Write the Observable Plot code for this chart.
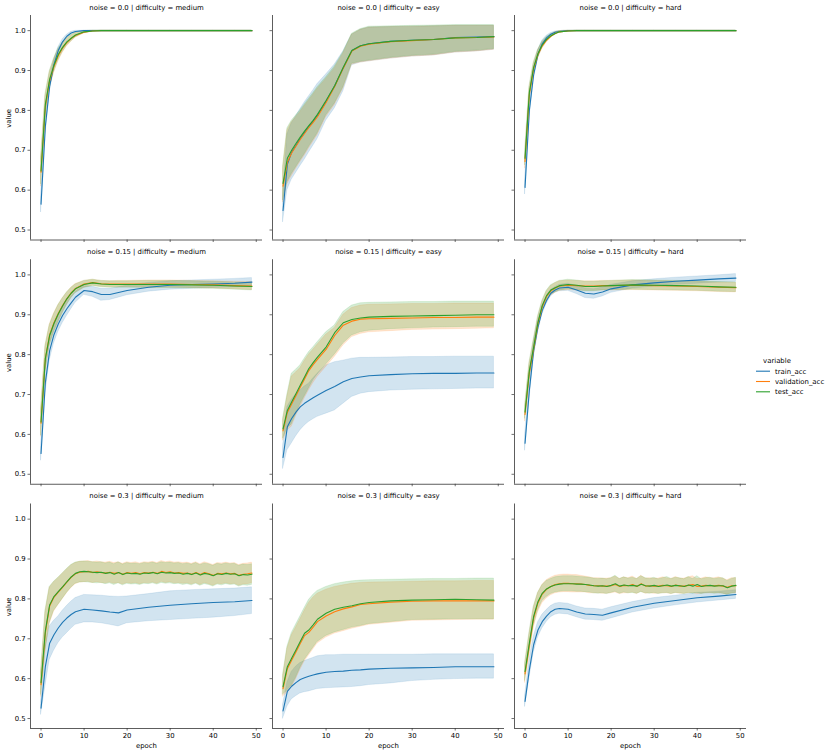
<!DOCTYPE html>
<html><head><meta charset="utf-8">
<script src="https://cdn.jsdelivr.net/npm/d3@7"></script>
<script src="https://cdn.jsdelivr.net/npm/@observablehq/plot@0.6"></script>
<style>
body{margin:0;background:#fff;}
#chart{position:relative;width:831px;height:754px;}
</style></head><body><div id="chart"></div>
<script>
const variables = ["train_acc","validation_acc","test_acc"];
const colors = ["#1f77b4","#ff7f0e","#2ca02c"];
const difficulties = ["medium","easy","hard"];
const noises = ["0.0","0.15","0.3"];
const xTicks = [0,10,20,30,40,50];
const yTicks = [0.5,0.6,0.7,0.8,0.9,1.0];

// sampled epochs (smooth curves) and all epochs (noisy curves)
const EP = [0,1,2,3,4,5,6,7,8,10,12,14,16,18,20,25,30,35,40,45,49];
const EPD = [0,1,2,3,4,5,6,7,8,9,10,11,12,13,14,15,16,17,18,19,20,21,22,23,24,25,26,27,28,29,30,31,32,33,34,35,36,37,38,39,40,41,42,43,44,45,46,47,48,49];

// noise 0.0 | medium
const n00_medium_train_mean = [.565,.76,.86,.915,.95,.972,.986,.994,.998,1,1,1,1,1,1,1,1,1,1,1,1];
const n00_medium_train_lo   = [.545,.735,.845,.905,.942,.966,.982,.991,.996,.9995,1,1,1,1,1,1,1,1,1,1,1];
const n00_medium_train_hi   = [.585,.785,.875,.925,.958,.978,.99,.997,.9995,1,1,1,1,1,1,1,1,1,1,1,1];
const n00_medium_val_mean   = [.645,.81,.875,.91,.937,.956,.97,.98,.988,.996,.999,1,1,1,1,1,1,1,1,1,1];
const n00_medium_val_lo     = [.61,.785,.855,.893,.922,.944,.96,.972,.982,.993,.998,1,1,1,1,1,1,1,1,1,1];
const n00_medium_val_hi     = [.68,.835,.895,.927,.952,.968,.98,.988,.994,.999,1,1,1,1,1,1,1,1,1,1,1];
const n00_medium_test_mean  = [.648,.815,.878,.913,.94,.958,.972,.981,.989,.997,.999,1,1,1,1,1,1,1,1,1,1];
const n00_medium_test_lo    = [.615,.79,.858,.896,.925,.946,.962,.973,.983,.994,.998,1,1,1,1,1,1,1,1,1,1];
const n00_medium_test_hi    = [.682,.84,.898,.93,.955,.97,.982,.989,.995,.999,1,1,1,1,1,1,1,1,1,1,1];

// noise 0.0 | easy
const n00_easy_train_mean = [.549,.665,.695,.712,.73,.745,.76,.773,.788,.823,.862,.907,.95,.962,.967,.973,.976,.978,.983,.984,.985];
const n00_easy_train_lo   = [.52,.6,.626,.643,.66,.676,.694,.711,.728,.774,.805,.848,.913,.92,.923,.93,.935,.938,.945,.948,.952];
const n00_easy_train_hi   = [.585,.74,.768,.785,.803,.82,.835,.85,.866,.89,.915,.948,.99,1.002,1.008,1.009,1.01,1.011,1.012,1.012,1.012];
const n00_easy_val_mean   = [.61,.67,.693,.71,.727,.742,.757,.77,.784,.82,.86,.906,.949,.961,.966,.972,.975,.978,.982,.983,.984];
const n00_easy_val_lo     = [.57,.615,.635,.653,.67,.686,.704,.721,.738,.783,.813,.855,.915,.92,.923,.93,.935,.938,.945,.948,.952];
const n00_easy_val_hi     = [.655,.75,.77,.783,.796,.811,.825,.839,.854,.879,.906,.943,.99,1.002,1.008,1.009,1.01,1.011,1.012,1.012,1.012];
const n00_easy_test_mean  = [.617,.68,.70,.717,.733,.748,.762,.775,.79,.825,.862,.908,.95,.962,.967,.973,.976,.978,.982,.983,.985];
const n00_easy_test_lo    = [.575,.62,.64,.657,.674,.69,.708,.725,.742,.787,.817,.858,.917,.922,.925,.932,.937,.94,.947,.95,.954];
const n00_easy_test_hi    = [.66,.755,.774,.787,.80,.815,.829,.843,.858,.883,.91,.946,.992,1.004,1.01,1.011,1.012,1.013,1.014,1.014,1.014];

// noise 0.0 | hard
const n00_hard_train_mean = [.607,.80,.89,.94,.967,.982,.991,.996,.998,1,1,1,1,1,1,1,1,1,1,1,1];
const n00_hard_train_lo   = [.59,.78,.875,.93,.959,.977,.988,.994,.997,.9995,1,1,1,1,1,1,1,1,1,1,1];
const n00_hard_train_hi   = [.625,.82,.905,.95,.975,.987,.994,.998,.999,1,1,1,1,1,1,1,1,1,1,1,1];
const n00_hard_val_mean   = [.672,.84,.905,.94,.962,.976,.986,.993,.997,.999,1,1,1,1,1,1,1,1,1,1,1];
const n00_hard_val_lo     = [.655,.825,.893,.93,.954,.97,.982,.99,.995,.998,1,1,1,1,1,1,1,1,1,1,1];
const n00_hard_val_hi     = [.69,.855,.917,.95,.97,.982,.99,.996,.999,1,1,1,1,1,1,1,1,1,1,1,1];
const n00_hard_test_mean  = [.68,.845,.908,.942,.964,.978,.987,.993,.997,.999,1,1,1,1,1,1,1,1,1,1,1];
const n00_hard_test_lo    = [.663,.83,.896,.932,.956,.972,.983,.99,.995,.998,1,1,1,1,1,1,1,1,1,1,1];
const n00_hard_test_hi    = [.697,.86,.92,.952,.972,.984,.991,.996,.999,1,1,1,1,1,1,1,1,1,1,1,1];

// noise 0.15 | medium
const n015_medium_train_mean = [.552,.73,.81,.85,.877,.898,.915,.93,.944,.961,.958,.951,.951,.956,.961,.969,.974,.976,.977,.979,.982];
const n015_medium_train_lo   = [.535,.70,.785,.828,.857,.879,.897,.914,.93,.95,.945,.935,.937,.943,.949,.958,.963,.965,.967,.969,.971];
const n015_medium_train_hi   = [.57,.76,.835,.872,.897,.917,.933,.946,.958,.972,.97,.965,.965,.969,.973,.98,.984,.986,.988,.99,.992];
const n015_medium_val_mean   = [.628,.79,.85,.88,.903,.923,.94,.955,.966,.977,.981,.978,.977,.977,.977,.977,.977,.976,.975,.973,.972];
const n015_medium_val_lo     = [.595,.76,.825,.857,.882,.905,.925,.942,.955,.968,.973,.97,.969,.969,.969,.968,.968,.967,.966,.964,.962];
const n015_medium_val_hi     = [.66,.82,.875,.903,.924,.941,.955,.968,.977,.985,.988,.985,.984,.985,.985,.986,.986,.985,.984,.983,.982];
const n015_medium_test_mean  = [.631,.79,.848,.878,.902,.922,.94,.954,.965,.976,.98,.977,.976,.976,.976,.976,.976,.975,.974,.972,.971];
const n015_medium_test_lo    = [.598,.758,.822,.855,.88,.903,.924,.941,.954,.967,.972,.969,.968,.968,.968,.967,.967,.966,.965,.963,.961];
const n015_medium_test_hi    = [.664,.822,.874,.901,.924,.941,.956,.967,.976,.985,.988,.985,.984,.984,.984,.985,.985,.984,.983,.981,.98];

// noise 0.15 | easy
const n015_easy_train_mean = [.542,.619,.64,.656,.669,.678,.685,.692,.698,.71,.72,.732,.74,.744,.747,.75,.752,.753,.753,.754,.754];
const n015_easy_train_lo   = [.514,.56,.577,.595,.61,.622,.631,.638,.644,.652,.66,.677,.694,.702,.706,.71,.712,.713,.714,.715,.715];
const n015_easy_train_hi   = [.57,.669,.687,.70,.71,.72,.727,.74,.752,.773,.781,.785,.79,.792,.792,.793,.794,.794,.795,.795,.795];
const n015_easy_val_mean   = [.609,.655,.676,.697,.718,.739,.76,.775,.788,.813,.848,.874,.884,.889,.89,.891,.892,.893,.893,.894,.894];
const n015_easy_val_lo     = [.585,.61,.619,.645,.669,.69,.71,.728,.744,.769,.794,.823,.844,.852,.856,.859,.862,.863,.864,.865,.866];
const n015_easy_val_hi     = [.635,.695,.745,.755,.766,.784,.80,.812,.825,.85,.867,.90,.917,.923,.925,.926,.927,.927,.928,.928,.928];
const n015_easy_test_mean  = [.614,.66,.681,.702,.723,.744,.765,.78,.794,.819,.855,.88,.888,.892,.894,.896,.897,.898,.899,.9,.9];
const n015_easy_test_lo    = [.59,.615,.625,.65,.675,.695,.715,.735,.75,.775,.80,.828,.848,.856,.86,.864,.866,.868,.869,.87,.87];
const n015_easy_test_hi    = [.64,.70,.752,.762,.773,.79,.806,.818,.831,.856,.873,.907,.923,.929,.93,.931,.932,.932,.933,.933,.933];

// noise 0.15 | hard
const n015_hard_train_mean = [.578,.71,.81,.869,.911,.936,.954,.962,.967,.969,.962,.954,.952,.957,.965,.975,.98,.984,.987,.99,.992];
const n015_hard_train_lo   = [.56,.685,.79,.855,.9,.927,.946,.955,.959,.96,.952,.942,.94,.946,.955,.966,.971,.975,.978,.981,.982];
const n015_hard_train_hi   = [.596,.735,.83,.883,.922,.945,.962,.969,.975,.978,.972,.966,.964,.968,.975,.984,.989,.993,.996,.999,1.002];
const n015_hard_val_mean   = [.65,.755,.815,.878,.92,.946,.96,.967,.972,.974,.973,.972,.972,.973,.973,.974,.973,.972,.971,.969,.968];
const n015_hard_val_lo     = [.633,.735,.797,.863,.908,.934,.948,.955,.96,.962,.961,.96,.96,.961,.961,.962,.961,.96,.959,.957,.956];
const n015_hard_val_hi     = [.667,.775,.833,.893,.932,.958,.972,.979,.984,.986,.985,.984,.984,.985,.985,.986,.985,.984,.983,.981,.98];
const n015_hard_test_mean  = [.656,.76,.819,.881,.923,.948,.962,.968,.973,.976,.974,.971,.971,.972,.973,.975,.974,.973,.972,.97,.969];
const n015_hard_test_lo    = [.64,.74,.80,.866,.911,.936,.95,.956,.961,.964,.962,.959,.959,.961,.962,.963,.962,.961,.96,.958,.957];
const n015_hard_test_hi    = [.672,.78,.838,.896,.935,.96,.974,.98,.985,.988,.986,.983,.983,.984,.985,.987,.986,.985,.984,.982,.981];

// noise 0.3 | medium  (train on EP, val/test on EPD)
const n03_medium_train_mean = [.526,.63,.689,.71,.727,.741,.752,.761,.768,.774,.772,.77,.767,.765,.772,.779,.784,.788,.791,.793,.796];
const n03_medium_train_lo   = [.51,.58,.647,.67,.689,.703,.714,.725,.735,.741,.741,.739,.735,.731,.739,.744,.747,.75,.753,.757,.762];
const n03_medium_train_hi   = [.542,.68,.731,.745,.756,.77,.782,.793,.802,.81,.809,.808,.806,.805,.806,.812,.819,.822,.824,.826,.829];
const n03_medium_val_mean = [.585,.715,.782,.804,.817,.829,.842,.854,.863,.867, .868,.869,.866,.868,.866,.865,.867,.864,.866,.862, .866,.864,.866,.863,.866,.865,.867,.864,.869,.866, .868,.865,.866,.864,.865,.862,.866,.861,.866,.863, .859,.864,.863,.865,.863,.864,.859,.862,.863,.865];
const n03_medium_val_lo   = [.555,.665,.737,.768,.784,.799,.814,.827,.837,.841, .842,.843,.84,.842,.84,.839,.841,.838,.84,.836, .84,.838,.84,.837,.84,.839,.841,.838,.843,.84, .842,.839,.84,.838,.839,.836,.84,.835,.84,.837, .833,.838,.837,.839,.837,.838,.833,.836,.837,.839];
const n03_medium_val_hi   = [.615,.765,.828,.842,.852,.863,.874,.884,.89,.893, .894,.895,.892,.894,.892,.891,.893,.89,.892,.888, .892,.89,.892,.889,.892,.891,.893,.89,.895,.892, .894,.891,.892,.89,.891,.888,.892,.887,.892,.889, .885,.89,.889,.891,.889,.89,.885,.888,.889,.891];
const n03_medium_test_mean = [.59,.72,.785,.806,.818,.83,.843,.855,.864,.868, .869,.868,.867,.866,.867,.864,.866,.862,.866,.861, .865,.863,.864,.862,.865,.864,.866,.863,.867,.865, .866,.864,.865,.862,.864,.861,.865,.86,.864,.862, .858,.863,.861,.864,.862,.863,.858,.861,.86,.862];
const n03_medium_test_lo   = [.56,.67,.74,.77,.785,.8,.815,.828,.838,.841, .842,.841,.84,.839,.84,.837,.839,.835,.839,.834, .838,.836,.837,.835,.838,.837,.839,.836,.84,.838, .839,.837,.838,.835,.837,.834,.838,.833,.837,.835, .831,.836,.834,.837,.835,.836,.831,.834,.833,.835];
const n03_medium_test_hi   = [.62,.77,.83,.843,.853,.864,.875,.885,.891,.893, .894,.893,.892,.891,.892,.889,.891,.887,.892,.886, .89,.888,.889,.887,.89,.889,.891,.888,.892,.89, .891,.889,.89,.887,.889,.886,.89,.885,.889,.887, .883,.888,.886,.889,.887,.888,.883,.886,.885,.887];

// noise 0.3 | easy
const n03_easy_train_mean = [.519,.568,.581,.59,.598,.602,.606,.609,.612,.616,.618,.619,.621,.622,.624,.626,.627,.628,.63,.63,.63];
const n03_easy_train_lo   = [.50,.53,.548,.556,.563,.566,.568,.571,.574,.576,.577,.578,.579,.581,.584,.588,.594,.597,.599,.6,.6];
const n03_easy_train_hi   = [.535,.59,.617,.63,.639,.644,.648,.652,.656,.659,.659,.66,.66,.66,.66,.66,.66,.661,.661,.661,.661];
const n03_easy_val_mean   = [.575,.625,.646,.667,.688,.708,.716,.729,.743,.757,.768,.775,.78,.786,.788,.792,.794,.795,.795,.795,.795];
const n03_easy_val_lo     = [.555,.565,.578,.598,.622,.643,.658,.673,.688,.703,.713,.719,.725,.73,.735,.74,.745,.746,.747,.748,.748];
const n03_easy_val_hi     = [.605,.675,.708,.728,.749,.77,.79,.803,.813,.823,.83,.834,.838,.84,.841,.842,.843,.844,.844,.845,.845];
const n03_easy_test_mean  = [.58,.63,.651,.672,.693,.714,.722,.735,.749,.764,.774,.779,.783,.788,.791,.795,.797,.798,.799,.798,.797];
const n03_easy_test_lo    = [.56,.57,.582,.602,.627,.647,.662,.677,.692,.707,.716,.722,.728,.732,.737,.742,.747,.748,.749,.749,.749];
const n03_easy_test_hi    = [.61,.68,.714,.735,.756,.777,.797,.81,.82,.83,.837,.841,.844,.846,.847,.848,.849,.85,.85,.851,.851];

// noise 0.3 | hard  (train on EP, val/test on EPD)
const n03_hard_train_mean = [.543,.622,.685,.722,.743,.757,.768,.774,.776,.774,.767,.762,.761,.759,.765,.779,.789,.796,.803,.807,.811];
const n03_hard_train_lo   = [.53,.6,.665,.703,.726,.742,.754,.76,.763,.761,.754,.748,.747,.745,.751,.766,.776,.784,.791,.796,.8];
const n03_hard_train_hi   = [.556,.645,.705,.741,.76,.772,.782,.788,.79,.788,.781,.776,.775,.773,.779,.792,.802,.808,.815,.818,.822];
const n03_hard_val_mean = [.612,.684,.752,.79,.812,.824,.831,.836,.838,.839, .839,.838,.838,.837,.836,.834,.833,.833,.832,.832, .833,.836,.831,.834,.833,.836,.831,.838,.832,.833, .832,.832,.834,.833,.831,.835,.832,.832,.834,.836, .831,.832,.834,.833,.833,.834,.832,.829,.833,.833];
const n03_hard_val_lo   = [.59,.658,.727,.766,.789,.801,.809,.814,.816,.817, .817,.816,.816,.816,.816,.814,.814,.814,.813,.813, .814,.816,.812,.814,.814,.816,.812,.818,.813,.814, .813,.813,.814,.814,.812,.815,.813,.813,.814,.815, .812,.813,.814,.814,.814,.814,.813,.811,.814,.814];
const n03_hard_val_hi   = [.635,.71,.777,.814,.835,.847,.853,.858,.86,.861, .861,.86,.86,.858,.856,.854,.852,.852,.851,.851, .852,.856,.85,.854,.852,.856,.85,.858,.851,.852, .851,.851,.854,.852,.85,.855,.851,.851,.854,.857, .85,.851,.854,.852,.852,.854,.851,.847,.852,.852];
const n03_hard_test_mean = [.618,.689,.756,.793,.814,.825,.831,.835,.837,.838, .838,.838,.837,.837,.836,.835,.833,.832,.833,.831, .834,.838,.832,.835,.833,.834,.832,.837,.833,.832, .834,.831,.833,.835,.832,.834,.833,.831,.835,.832, .836,.831,.833,.834,.832,.833,.833,.828,.832,.834];
const n03_hard_test_lo   = [.595,.663,.732,.771,.794,.805,.812,.816,.818,.819, .819,.819,.818,.818,.817,.816,.814,.813,.814,.812, .815,.818,.813,.816,.814,.815,.813,.817,.814,.813, .815,.812,.814,.815,.812,.815,.814,.812,.815,.813, .815,.812,.814,.815,.813,.814,.813,.81,.813,.815];
const n03_hard_test_hi   = [.64,.715,.78,.815,.834,.845,.85,.854,.856,.857, .857,.857,.856,.855,.854,.853,.851,.85,.851,.849, .852,.858,.85,.854,.851,.853,.85,.857,.852,.85, .853,.849,.852,.855,.85,.853,.852,.849,.855,.85, .857,.849,.852,.853,.85,.852,.852,.845,.85,.853];

const series = [
  ["0.0","medium","train_acc",EP,n00_medium_train_mean,n00_medium_train_lo,n00_medium_train_hi],
  ["0.0","medium","validation_acc",EP,n00_medium_val_mean,n00_medium_val_lo,n00_medium_val_hi],
  ["0.0","medium","test_acc",EP,n00_medium_test_mean,n00_medium_test_lo,n00_medium_test_hi],
  ["0.0","easy","train_acc",EP,n00_easy_train_mean,n00_easy_train_lo,n00_easy_train_hi],
  ["0.0","easy","validation_acc",EP,n00_easy_val_mean,n00_easy_val_lo,n00_easy_val_hi],
  ["0.0","easy","test_acc",EP,n00_easy_test_mean,n00_easy_test_lo,n00_easy_test_hi],
  ["0.0","hard","train_acc",EP,n00_hard_train_mean,n00_hard_train_lo,n00_hard_train_hi],
  ["0.0","hard","validation_acc",EP,n00_hard_val_mean,n00_hard_val_lo,n00_hard_val_hi],
  ["0.0","hard","test_acc",EP,n00_hard_test_mean,n00_hard_test_lo,n00_hard_test_hi],
  ["0.15","medium","train_acc",EP,n015_medium_train_mean,n015_medium_train_lo,n015_medium_train_hi],
  ["0.15","medium","validation_acc",EP,n015_medium_val_mean,n015_medium_val_lo,n015_medium_val_hi],
  ["0.15","medium","test_acc",EP,n015_medium_test_mean,n015_medium_test_lo,n015_medium_test_hi],
  ["0.15","easy","train_acc",EP,n015_easy_train_mean,n015_easy_train_lo,n015_easy_train_hi],
  ["0.15","easy","validation_acc",EP,n015_easy_val_mean,n015_easy_val_lo,n015_easy_val_hi],
  ["0.15","easy","test_acc",EP,n015_easy_test_mean,n015_easy_test_lo,n015_easy_test_hi],
  ["0.15","hard","train_acc",EP,n015_hard_train_mean,n015_hard_train_lo,n015_hard_train_hi],
  ["0.15","hard","validation_acc",EP,n015_hard_val_mean,n015_hard_val_lo,n015_hard_val_hi],
  ["0.15","hard","test_acc",EP,n015_hard_test_mean,n015_hard_test_lo,n015_hard_test_hi],
  ["0.3","medium","train_acc",EP,n03_medium_train_mean,n03_medium_train_lo,n03_medium_train_hi],
  ["0.3","medium","validation_acc",EPD,n03_medium_val_mean,n03_medium_val_lo,n03_medium_val_hi],
  ["0.3","medium","test_acc",EPD,n03_medium_test_mean,n03_medium_test_lo,n03_medium_test_hi],
  ["0.3","easy","train_acc",EP,n03_easy_train_mean,n03_easy_train_lo,n03_easy_train_hi],
  ["0.3","easy","validation_acc",EP,n03_easy_val_mean,n03_easy_val_lo,n03_easy_val_hi],
  ["0.3","easy","test_acc",EP,n03_easy_test_mean,n03_easy_test_lo,n03_easy_test_hi],
  ["0.3","hard","train_acc",EP,n03_hard_train_mean,n03_hard_train_lo,n03_hard_train_hi],
  ["0.3","hard","validation_acc",EPD,n03_hard_val_mean,n03_hard_val_lo,n03_hard_val_hi],
  ["0.3","hard","test_acc",EPD,n03_hard_test_mean,n03_hard_test_lo,n03_hard_test_hi]
];

const rows = series.flatMap(([noise, difficulty, variable, ep, m, lo, hi]) =>
  ep.map((epoch, i) => ({noise, difficulty, variable, epoch, mean: m[i], lo: lo[i], hi: hi[i]})));

const panels = noises.flatMap(noise => difficulties.map(difficulty => ({noise, difficulty})));

const xDomain = [-2.45, 51.45];
const yDomain = [0.475, 1.038];
const spine = "#333";

const plot = Plot.plot({
  width: 831, height: 754,
  marginLeft: 30, marginRight: 85, marginTop: 15, marginBottom: 26,
  style: {fontFamily: "'DejaVu Sans', sans-serif", fontSize: "6.9px", color: "#000", background: "#fff", overflow: "visible"},
  fx: {domain: difficulties, axis: null, paddingInner: 10/242, paddingOuter: 0, round: false},
  fy: {domain: noises, axis: null, paddingInner: 19.75/244.25, paddingOuter: 0, round: false},
  x: {domain: xDomain},
  y: {domain: yDomain},
  color: {domain: variables, range: colors},
  marks: [
    Plot.areaY(rows, {x: "epoch", y1: "lo", y2: "hi", fill: "variable", z: "variable", fillOpacity: 0.2,
      stroke: "variable", strokeOpacity: 0.2, strokeWidth: 0.6, fx: "difficulty", fy: "noise"}),
    Plot.lineY(rows, {x: "epoch", y: "mean", stroke: "variable", z: "variable", strokeWidth: 1.1,
      fx: "difficulty", fy: "noise"}),
    Plot.ruleX([xDomain[0]], {stroke: spine, strokeWidth: 0.8}),
    Plot.ruleY([yDomain[0]], {stroke: spine, strokeWidth: 0.8}),
    Plot.axisX({ticks: xTicks, tickSize: 2.5, tickFormat: () => "", label: null, facetAnchor: null, stroke: spine, strokeWidth: 0.7}),
    Plot.axisY({ticks: yTicks, tickSize: 2.5, tickFormat: () => "", label: null, facetAnchor: null, stroke: spine, strokeWidth: 0.7}),
    Plot.axisX({ticks: xTicks, tickSize: 0, tickPadding: 4.5, tickFormat: d => String(d), label: null}),
    Plot.axisY({ticks: yTicks, tickSize: 0, tickPadding: 4.9, tickFormat: d3.format(".1f"), label: null}),
    Plot.text(panels, {fx: "difficulty", fy: "noise", text: d => `noise = ${d.noise} | difficulty = ${d.difficulty}`,
      frameAnchor: "top", lineAnchor: "middle", dy: -8}),
    Plot.text(noises, {fy: d => d, fx: () => "medium", text: () => "value", frameAnchor: "left", rotate: -90, dx: -22}),
    Plot.text(difficulties, {fx: d => d, fy: () => "0.3", text: () => "epoch", frameAnchor: "bottom", lineAnchor: "middle", dy: 17})
  ]
});

// legend (seaborn style, to the right)
const color = plot.scale("color");
const svg = d3.select(plot);
const lg = svg.append("g").attr("font-size", 6.9).attr("fill", "#000");
lg.append("text").attr("x", 777).attr("y", 360.7).attr("text-anchor", "middle").attr("dy", "0.35em").text("variable");
variables.forEach((v, i) => {
  const y = 371.2 + i * 10.3;
  lg.append("line").attr("x1", 756).attr("x2", 770).attr("y1", y).attr("y2", y)
    .attr("stroke", color.apply(v)).attr("stroke-width", 1.1);
  lg.append("text").attr("x", 775).attr("y", y).attr("dy", "0.35em").attr("text-anchor", "start").text(v);
});

document.getElementById("chart").appendChild(plot);
</script>
</body></html>
